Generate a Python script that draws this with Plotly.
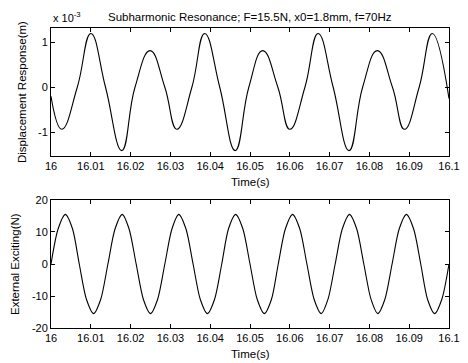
import plotly.graph_objects as go
from plotly.subplots import make_subplots

# Displacement response (units of 1e-3 m), key points
t_disp = [16.0000, 16.0027, 16.0066, 16.0100, 16.0137, 16.0178, 16.0211, 16.0249,
          16.0286, 16.0316, 16.0354, 16.0386, 16.0424, 16.0463, 16.0497, 16.0532,
          16.0570, 16.0600, 16.0638, 16.0671, 16.0709, 16.0749, 16.0783, 16.0820,
          16.0858, 16.0888, 16.0925, 16.0958, 16.1000]
disp = [-0.20, -0.93, 0.00, 1.19, 0.00, -1.40, 0.00, 0.81,
        0.00, -0.93, 0.00, 1.19, 0.00, -1.40, 0.00, 0.81,
        0.00, -0.93, 0.00, 1.19, 0.00, -1.40, 0.00, 0.81,
        0.00, -0.93, 0.00, 1.19, -0.25]

# External exciting force (N)
t_force = [16.0000, 16.0018, 16.0036, 16.0054, 16.0071, 16.0089, 16.0107, 16.0125,
           16.0143, 16.0161, 16.0179, 16.0196, 16.0214, 16.0232, 16.0250, 16.0268,
           16.0286, 16.0304, 16.0321, 16.0339, 16.0357, 16.0375, 16.0393, 16.0411,
           16.0429, 16.0446, 16.0464, 16.0482, 16.0500, 16.0518, 16.0536, 16.0554,
           16.0571, 16.0589, 16.0607, 16.0625, 16.0643, 16.0661, 16.0679, 16.0696,
           16.0714, 16.0732, 16.0750, 16.0768, 16.0786, 16.0804, 16.0821, 16.0839,
           16.0857, 16.0875, 16.0893, 16.0911, 16.0929, 16.0946, 16.0964, 16.0982,
           16.1000]
force = [0.0, 11.0, 15.5, 11.0, 0.0, -11.0, -15.5, -11.0,
         0.0, 11.0, 15.5, 11.0, 0.0, -11.0, -15.5, -11.0,
         0.0, 11.0, 15.5, 11.0, 0.0, -11.0, -15.5, -11.0,
         0.0, 11.0, 15.5, 11.0, 0.0, -11.0, -15.5, -11.0,
         0.0, 11.0, 15.5, 11.0, 0.0, -11.0, -15.5, -11.0,
         0.0, 11.0, 15.5, 11.0, 0.0, -11.0, -15.5, -11.0,
         0.0, 11.0, 15.5, 11.0, 0.0, -11.0, -15.5, -11.0,
         0.0]

x_ticks = [16, 16.01, 16.02, 16.03, 16.04, 16.05, 16.06, 16.07, 16.08, 16.09, 16.1]
x_tick_text = ["16", "16.01", "16.02", "16.03", "16.04", "16.05", "16.06",
               "16.07", "16.08", "16.09", "16.1"]
y1_ticks = [-1, 0, 1]
y1_tick_text = ["-1", "0", "1"]
y2_ticks = [-20, -10, 0, 10, 20]
y2_tick_text = ["-20", "-10", "0", "10", "20"]

FONT = "Liberation Sans, Arial, Helvetica, sans-serif"

fig = make_subplots(rows=2, cols=1, shared_xaxes=False)
fig.add_trace(go.Scatter(x=t_disp, y=disp, mode="lines",
                         line=dict(color="black", width=1.1, shape="spline", smoothing=1.3)),
              row=1, col=1)
fig.add_trace(go.Scatter(x=t_force, y=force, mode="lines",
                         line=dict(color="black", width=1.1, shape="spline", smoothing=0.8)),
              row=2, col=1)

axis_common = dict(showline=True, linecolor="black", linewidth=1, mirror="allticks",
                   ticks="inside", ticklen=4, tickcolor="black", showgrid=False,
                   zeroline=False, tickfont=dict(family=FONT, size=11, color="black"))

fig.update_xaxes(range=[16, 16.1], tickvals=x_ticks, ticktext=x_tick_text, **axis_common)
fig.update_yaxes(**axis_common)
fig.update_yaxes(range=[-1.52, 1.31], tickvals=y1_ticks, ticktext=y1_tick_text,
                 domain=[0.5733, 1.0], row=1, col=1)
fig.update_yaxes(range=[-20, 20], tickvals=y2_ticks, ticktext=y2_tick_text,
                 domain=[0.0, 0.4267], row=2, col=1)

# The page body has an 8px margin, so the figure is sized/offset to compensate
fig.update_layout(
    width=460, height=355,
    margin=dict(l=43, r=19, t=20, b=35, autoexpand=False),
    paper_bgcolor="white", plot_bgcolor="white",
    showlegend=False,
    font=dict(family=FONT, size=11, color="black"),
    annotations=[
        dict(text="Subharmonic Resonance; F=15.5N, x0=1.8mm, f=70Hz",
             xref="paper", yref="paper", x=0.5, y=1, yshift=3,
             xanchor="center", yanchor="bottom", showarrow=False,
             font=dict(family=FONT, size=11.5)),
        dict(text="x 10<sup>-3</sup>", xref="paper", yref="paper", x=0, y=1, yshift=2,
             xanchor="left", yanchor="bottom", showarrow=False,
             font=dict(family=FONT, size=11)),
        dict(text="Displacement Response(m)", xref="paper", yref="paper",
             x=0, xshift=-29, y=0.7867, textangle=-90, xanchor="center", yanchor="middle",
             showarrow=False, font=dict(family=FONT, size=11.5)),
        dict(text="External Exciting(N)", xref="paper", yref="paper",
             x=0, xshift=-36, y=0.2133, textangle=-90, xanchor="center", yanchor="middle",
             showarrow=False, font=dict(family=FONT, size=11.5)),
        dict(text="Time(s)", xref="paper", yref="paper", x=0.5, y=0.5733, yshift=-18,
             xanchor="center", yanchor="top", showarrow=False, font=dict(family=FONT, size=11.5)),
        dict(text="Time(s)", xref="paper", yref="paper", x=0.5, y=0.0, yshift=-18,
             xanchor="center", yanchor="top", showarrow=False, font=dict(family=FONT, size=11.5)),
    ],
)

fig.write_html("out.html")
